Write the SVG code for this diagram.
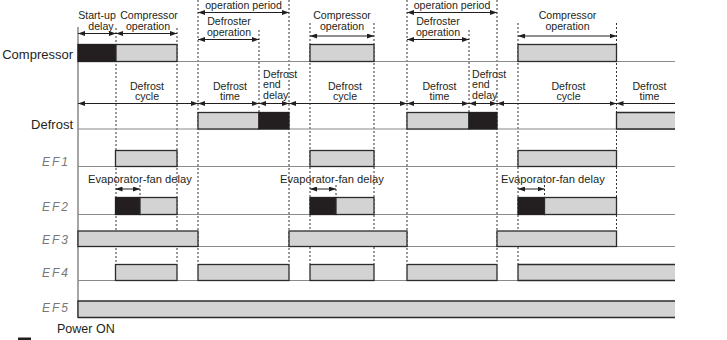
<svg xmlns="http://www.w3.org/2000/svg" width="727" height="340" viewBox="0 0 727 340">
<defs>
<style>
.t{font-family:"Liberation Sans",Arial,sans-serif;font-size:10.6px;fill:#231f20}
.c{text-anchor:middle}
.lbl{font-family:"Liberation Sans",Arial,sans-serif;font-size:13px;fill:#231f20;text-anchor:end}
.ef{font-family:"Liberation Sans",Arial,sans-serif;font-style:italic;font-size:12px;fill:#777;letter-spacing:2px}
.base{stroke:#8a8a8a;stroke-width:1.2;fill:none}
.dot{stroke:#333;stroke-width:1;stroke-dasharray:2 2;fill:none}
.g{fill:#d3d3d3;stroke:#2b2b2b;stroke-width:1.3}
.b{fill:#231f20;stroke:#231f20;stroke-width:1.3}
.gf{fill:#d3d3d3;stroke:none}
.edge{fill:none;stroke:#2b2b2b;stroke-width:1.3}
.arr{stroke:#231f20;stroke-width:1;fill:none;marker-start:url(#ah);marker-end:url(#ah)}
.arr1{stroke:#231f20;stroke-width:1;fill:none;marker-start:url(#ah)}
</style>
<marker id="ah" viewBox="0 0 7 5" refX="7" refY="2.5" markerWidth="7" markerHeight="5" markerUnits="userSpaceOnUse" orient="auto-start-reverse">
<path d="M0,0 L7,2.5 L0,5 z" fill="#231f20"/>
</marker>
</defs>
<rect width="727" height="340" fill="#fff"/>

<g id="guides">
<line class="dot" x1="116" y1="28" x2="116" y2="264"/>
<line class="dot" x1="177" y1="28" x2="177" y2="264"/>
<line class="dot" x1="198" y1="0" x2="198" y2="264"/>
<line class="dot" x1="259" y1="30" x2="259" y2="112"/>
<line class="dot" x1="289" y1="0" x2="289" y2="264"/>
<line class="dot" x1="310" y1="23" x2="310" y2="264"/>
<line class="dot" x1="374" y1="23" x2="374" y2="264"/>
<line class="dot" x1="407" y1="0" x2="407" y2="264"/>
<line class="dot" x1="469" y1="30" x2="469" y2="112"/>
<line class="dot" x1="497" y1="0" x2="497" y2="264"/>
<line class="dot" x1="518" y1="23" x2="518" y2="264"/>
<line class="dot" x1="616.5" y1="23" x2="616.5" y2="231"/>
<line class="dot" x1="140" y1="185" x2="140" y2="197"/>
<line class="dot" x1="336" y1="185" x2="336" y2="197"/>
<line class="dot" x1="544.5" y1="185" x2="544.5" y2="197"/>
</g>

<g id="axis">
<line x1="78" y1="27" x2="78" y2="317" stroke="#6a6a6a" stroke-width="1.2"/>
</g>

<g id="compressor">
<text class="lbl" x="73" y="59">Compressor</text>
<line class="base" x1="78" y1="61.5" x2="675" y2="61.5"/>
<rect class="b" x="78" y="44.5" width="38" height="17"/>
<rect class="g" x="116" y="44.5" width="61" height="17"/>
<rect class="g" x="310" y="44.5" width="64" height="17"/>
<rect class="g" x="518" y="44.5" width="98.5" height="17"/>
</g>

<g id="defrost">
<text class="lbl" x="73" y="128.5">Defrost</text>
<line class="base" x1="78" y1="129" x2="675" y2="129"/>
<rect class="g" x="198" y="112.5" width="61" height="16.5"/>
<rect class="b" x="259" y="112.5" width="30" height="16.5"/>
<rect class="g" x="407" y="112.5" width="62" height="16.5"/>
<rect class="b" x="469" y="112.5" width="28" height="16.5"/>
<rect class="gf" x="616.5" y="112.5" width="58.5" height="16.5"/>
<path class="edge" d="M675,112.5 H616.5 V129 H675"/>
</g>

<g id="ef1">
<text class="ef" x="42" y="166">EF1</text>
<line class="base" x1="78" y1="166.5" x2="675" y2="166.5"/>
<rect class="g" x="115.5" y="150.5" width="61.5" height="16"/>
<rect class="g" x="310" y="150.5" width="64" height="16"/>
<rect class="g" x="518" y="150.5" width="98.5" height="16"/>
</g>

<g id="ef2">
<text class="ef" x="42" y="211">EF2</text>
<line class="base" x1="78" y1="214.5" x2="675" y2="214.5"/>
<rect class="b" x="115.5" y="197.5" width="24.5" height="17"/>
<rect class="g" x="140" y="197.5" width="37" height="17"/>
<rect class="b" x="310" y="197.5" width="26" height="17"/>
<rect class="g" x="336" y="197.5" width="38" height="17"/>
<rect class="b" x="518" y="197.5" width="26.5" height="17"/>
<rect class="g" x="544.5" y="197.5" width="72" height="17"/>
</g>

<g id="ef3">
<text class="ef" x="42" y="244">EF3</text>
<line class="base" x1="78" y1="246.5" x2="675" y2="246.5"/>
<rect class="g" x="78" y="231" width="120" height="15.5"/>
<rect class="g" x="289" y="231" width="118" height="15.5"/>
<rect class="g" x="497" y="231" width="119.5" height="15.5"/>
</g>

<g id="ef4">
<text class="ef" x="42" y="277">EF4</text>
<line class="base" x1="78" y1="280.5" x2="675" y2="280.5"/>
<rect class="g" x="115.5" y="264.5" width="61.5" height="16"/>
<rect class="g" x="198" y="264.5" width="91" height="16"/>
<rect class="g" x="310" y="264.5" width="64" height="16"/>
<rect class="g" x="407" y="264.5" width="90" height="16"/>
<rect class="gf" x="518" y="264.5" width="157" height="16"/>
<path class="edge" d="M675,264.5 H518 V280.5 H675"/>
</g>

<g id="ef5">
<text class="ef" x="42" y="311.5">EF5</text>
<rect class="gf" x="78" y="301" width="597" height="16.5"/>
<path class="edge" d="M675,301 H78 V317.5 H675"/>
</g>

<g id="connectors">
<line class="arr" x1="78" y1="33.5" x2="116" y2="33.5"/>
<line class="arr" x1="116" y1="33.5" x2="177" y2="33.5"/>
<line class="arr" x1="198" y1="12.5" x2="289" y2="12.5"/>
<line class="arr" x1="198" y1="39.5" x2="259" y2="39.5"/>
<line class="arr" x1="310" y1="36" x2="374" y2="36"/>
<line class="arr" x1="407" y1="12.5" x2="497" y2="12.5"/>
<line class="arr" x1="407" y1="39.5" x2="469" y2="39.5"/>
<line class="arr" x1="518" y1="36" x2="616.5" y2="36"/>
<line class="arr" x1="78" y1="103.5" x2="198" y2="103.5"/>
<line class="arr" x1="198" y1="103.5" x2="259" y2="103.5"/>
<line class="arr" x1="259" y1="103.5" x2="289" y2="103.5"/>
<line class="arr" x1="289" y1="103.5" x2="407" y2="103.5"/>
<line class="arr" x1="407" y1="103.5" x2="469" y2="103.5"/>
<line class="arr" x1="469" y1="103.5" x2="497" y2="103.5"/>
<line class="arr" x1="497" y1="103.5" x2="616.5" y2="103.5"/>
<line class="arr1" x1="616.5" y1="103.5" x2="675" y2="103.5"/>
<line class="arr" x1="115.5" y1="189" x2="140" y2="189"/>
<line class="arr" x1="310" y1="189" x2="336" y2="189"/>
<line class="arr" x1="518" y1="189" x2="544.5" y2="189"/>
</g>

<g id="labels">
<text class="t c" x="97" y="19">Start-up</text>
<text class="t c" x="101" y="30">delay</text>
<text class="t c" x="149" y="19">Compressor</text>
<text class="t c" x="148" y="30">operation</text>
<text class="t c" x="243.5" y="8.5">operation period</text>
<text class="t c" x="229" y="25">Defroster</text>
<text class="t c" x="229" y="35.5">operation</text>
<text class="t c" x="342" y="19">Compressor</text>
<text class="t c" x="342" y="29.5">operation</text>
<text class="t c" x="452" y="8.5">operation period</text>
<text class="t c" x="438" y="25">Defroster</text>
<text class="t c" x="438" y="35.5">operation</text>
<text class="t c" x="567.5" y="19">Compressor</text>
<text class="t c" x="567.5" y="29.5">operation</text>

<text class="t c" x="147" y="89.5">Defrost</text>
<text class="t c" x="147" y="100">cycle</text>
<text class="t c" x="230" y="89.5">Defrost</text>
<text class="t c" x="230" y="100">time</text>
<text class="t" x="263" y="77.5">Defrost</text>
<text class="t" x="263" y="88">end</text>
<text class="t" x="263" y="98.5">delay</text>
<text class="t c" x="345" y="89.5">Defrost</text>
<text class="t c" x="345" y="100">cycle</text>
<text class="t c" x="439.5" y="89.5">Defrost</text>
<text class="t c" x="439.5" y="100">time</text>
<text class="t" x="472" y="77.5">Defrost</text>
<text class="t" x="472" y="88">end</text>
<text class="t" x="472" y="98.5">delay</text>
<text class="t c" x="568.5" y="89.5">Defrost</text>
<text class="t c" x="568.5" y="100">cycle</text>
<text class="t c" x="649.5" y="89.5">Defrost</text>
<text class="t c" x="649.5" y="100">time</text>

<text class="t" x="88" y="183" style="font-size:11.2px">Evaporator-fan delay</text>
<text class="t" x="280" y="183" style="font-size:11.2px">Evaporator-fan delay</text>
<text class="t" x="501" y="183" style="font-size:11.2px">Evaporator-fan delay</text>

<text class="t" x="57" y="333" style="font-size:12.5px">Power ON</text>
</g>

<g id="legend">
<rect x="18" y="337.5" width="13" height="10" fill="#231f20"/>
</g>
</svg>
